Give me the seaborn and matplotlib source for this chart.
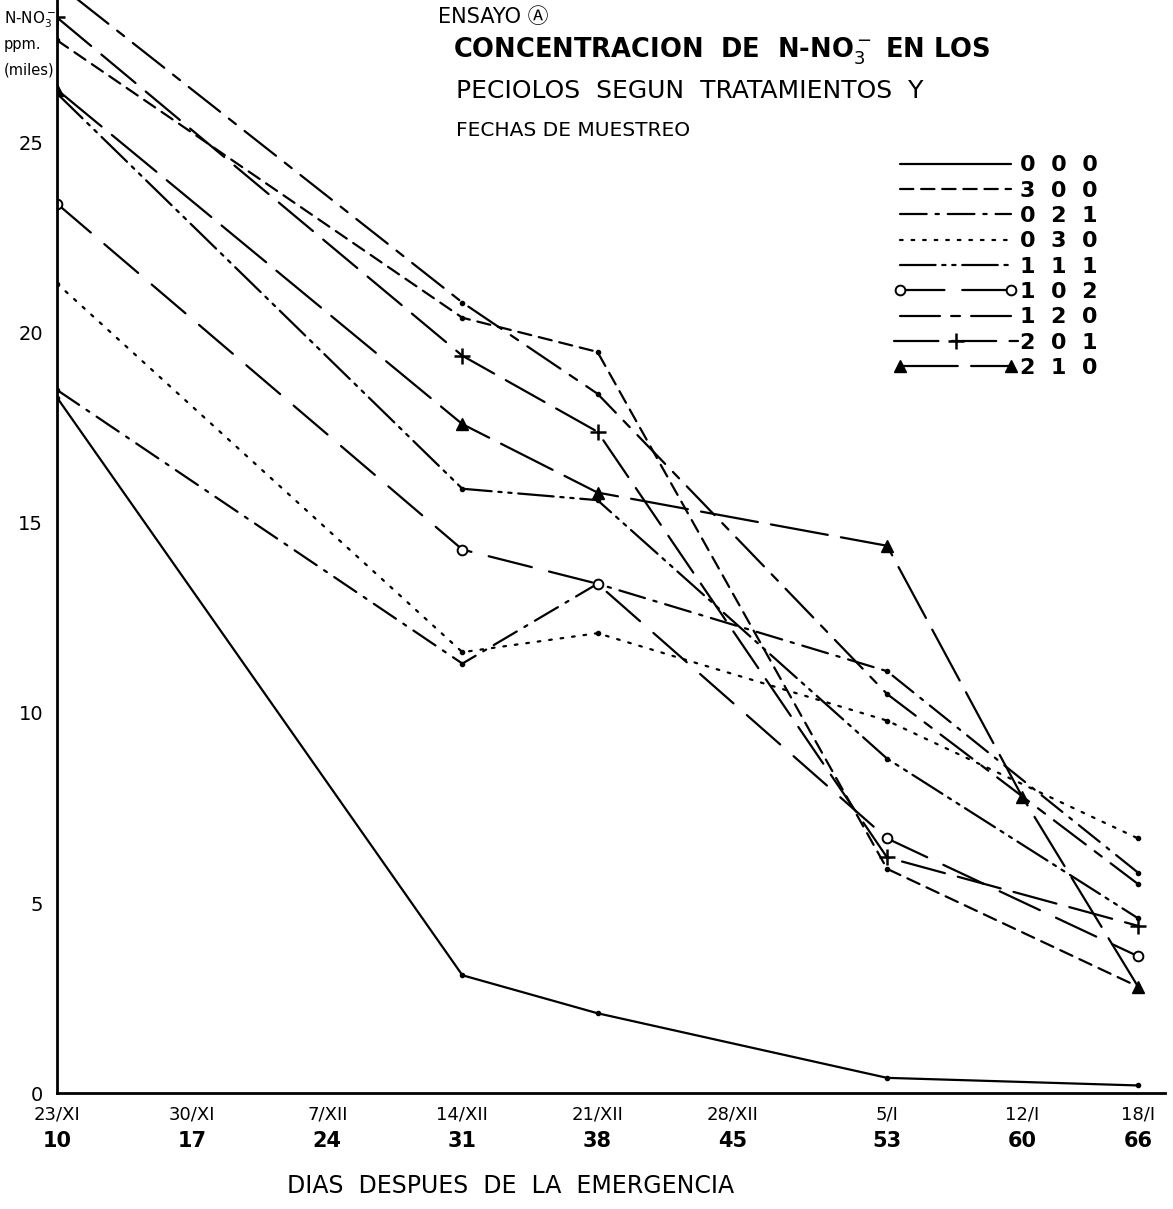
import numpy as np
import pandas as pd
import matplotlib
matplotlib.use('Agg')
import matplotlib.pyplot as plt
from matplotlib.lines import Line2D
from matplotlib.legend_handler import HandlerLine2D
import seaborn as sns

# dias de muestreo (despues de la emergencia) y N-NO3 por tratamiento
dias = [10, 31, 38, 53, 60, 66]
nan = np.nan
t000 = [18.3, 3.1, 2.1, 0.4, nan, 0.2]
t300 = [27.7, 20.4, 19.5, 5.9, nan, 2.8]
t021 = [18.5, 11.3, 13.4, 11.1, nan, 5.8]
t030 = [21.3, 11.6, 12.1, 9.8, nan, 6.7]
t111 = [26.3, 15.9, 15.6, 8.8, nan, 4.6]
t102 = [23.4, 14.3, 13.4, 6.7, nan, 3.6]
t120 = [29.2, 20.8, 18.4, 10.5, nan, 5.5]
t201 = [28.3, 19.4, 17.4, 6.2, nan, 4.4]
t210 = [26.4, 17.6, 15.8, 14.4, 7.8, 2.8]

tratamientos = ['000', '300', '021', '030', '111', '102', '120', '201', '210']
valores = [t000, t300, t021, t030, t111, t102, t120, t201, t210]

fechas = ['23/XI', '30/XI', '7/XII', '14/XII', '21/XII', '28/XII', '5/I', '12/I', '18/I']
dias_eje = [10, 17, 24, 31, 38, 45, 53, 60, 66]
yticks = [0, 5, 10, 15, 20, 25]

estilos = {
    '000': dict(ls='-', marker='.', ms=6),
    '300': dict(ls=(0, (6, 3.5)), marker='.', ms=6),
    '021': dict(ls=(0, (12, 4, 1.5, 4)), marker='.', ms=6),
    '030': dict(ls=(0, (1.2, 4)), marker='.', ms=6),
    '111': dict(ls=(0, (16, 3, 1.5, 3, 1.5, 3)), marker='.', ms=6),
    '102': dict(ls=(0, (20, 8)), marker='o', ms=7, mfc='white', mew=1.4),
    '120': dict(ls=(0, (18, 5, 4, 5)), marker='.', ms=6),
    '201': dict(ls=(0, (20, 6)), marker='+', ms=11, mew=1.8),
    '210': dict(ls=(0, (26, 6)), marker='^', ms=8),
}

sns.set_style('white')
plt.rcParams['font.family'] = ['DejaVu Sans', 'Noto Sans CJK JP']
plt.rcParams['text.color'] = 'black'
plt.rcParams['xtick.color'] = 'black'
plt.rcParams['ytick.color'] = 'black'

fig = plt.figure(figsize=(11.73, 12.09), dpi=100)
ax = fig.add_axes([0.0486, 0.0959, 0.9446, 0.9041])

for trat, vals in zip(tratamientos, valores):
    df = pd.DataFrame({'dia': dias, 'valor': vals}).dropna()
    st = estilos[trat]
    sns.lineplot(data=df, x='dia', y='valor', ax=ax, color='black', lw=1.6,
                 linestyle=st['ls'], marker=st['marker'], ms=st['ms'],
                 mfc=st.get('mfc', 'black'), mec='black', mew=st.get('mew', 1.0),
                 dash_capstyle='round', estimator=None, sort=False)

ax.set_xlim(10, 67.4)
ax.set_ylim(0, 28.76)
ax.set_xlabel('')
ax.set_ylabel('')

for s in ['top', 'right']:
    ax.spines[s].set_visible(False)
for s in ['left', 'bottom']:
    ax.spines[s].set_color('black')
    ax.spines[s].set_linewidth(2.0)

ax.set_yticks(yticks)
ax.set_yticklabels([str(v) for v in yticks], fontsize=14)
ax.tick_params(axis='y', direction='out', length=6, width=1.5, pad=4)

ax.xaxis.remove_overlapping_locs = False
ax.set_xticks(dias_eje)
ax.set_xticklabels(fechas, fontsize=13)
ax.set_xticks(dias_eje, minor=True)
ax.set_xticklabels([str(d) for d in dias_eje], minor=True, fontsize=15, fontweight='bold')
ax.tick_params(axis='x', which='major', direction='inout', length=8, width=1.5, pad=5)
ax.tick_params(axis='x', which='minor', length=0, pad=27)

ax.text(0.409, -0.085, 'DIAS  DESPUES  DE  LA  EMERGENCIA', transform=ax.transAxes,
        ha='center', va='center', fontsize=17)

# titulo
fig.text(0.373, 0.986, 'ENSAYO Ⓐ', ha='left', va='center', fontsize=15)
fig.text(0.386, 0.958, 'CONCENTRACION  DE  N-NO$_3^-$ EN LOS', ha='left', va='center',
         fontsize=18.5, fontweight='bold')
fig.text(0.389, 0.925, 'PECIOLOS  SEGUN  TRATAMIENTOS  Y', ha='left', va='center',
         fontsize=18)
fig.text(0.389, 0.892, 'FECHAS DE MUESTREO', ha='left', va='center', fontsize=14.5)

# etiqueta del eje y
fig.text(0.003, 0.984, 'N-NO$_3^-$', ha='left', va='center', fontsize=11)
fig.text(0.003, 0.963, 'ppm.', ha='left', va='center', fontsize=10.5)
fig.text(0.003, 0.942, '(miles)', ha='left', va='center', fontsize=10.5)

# leyenda
handles = []
for trat in tratamientos:
    st = estilos[trat]
    mk = st['marker'] if st['marker'] != '.' else ''
    handles.append(Line2D([], [], color='black', lw=1.6, linestyle=st['ls'], marker=mk,
                          ms=st['ms'], mfc=st.get('mfc', 'black'), mec='black',
                          mew=st.get('mew', 1.0), dash_capstyle='round'))
labels = ['  '.join(t) for t in tratamientos]
hmap = {handles[7]: HandlerLine2D(numpoints=1)}
leg = ax.legend(handles, labels, loc='upper left', bbox_to_anchor=(0.745, 0.868),
                frameon=False, handlelength=5.6, handletextpad=0.1,
                labelspacing=0.24, borderpad=0, numpoints=2, handler_map=hmap,
                prop={'weight': 'bold', 'size': 16})

fig.savefig('out.png', dpi=100, facecolor='white')
